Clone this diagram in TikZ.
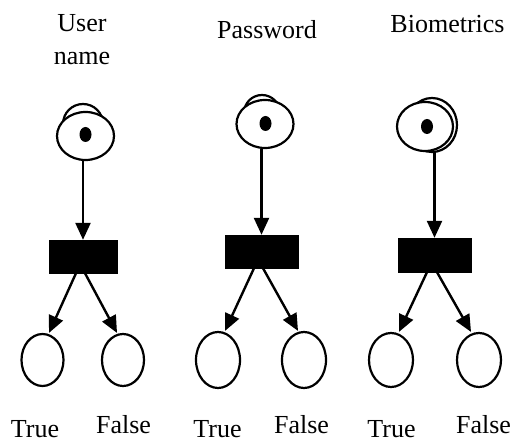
\documentclass[tikz,border=0pt]{standalone}
\usepackage{fontspec}
\setmainfont{Liberation Serif}
\usetikzlibrary{shapes.geometric,arrows.meta}
\begin{document}
\begin{tikzpicture}[x=1pt,y=-1pt,
  place/.style={draw,ellipse,line width=2.2pt,fill=white,inner sep=0pt},
  token/.style={fill=black,ellipse,inner sep=0pt,minimum width=12pt,minimum height=15pt},
  trans/.style={fill=black,draw=black,inner sep=0pt},
  arr/.style={line width=2.4pt,-{Triangle[length=17pt,width=15pt]}},
  lbl/.style={font=\fontsize{26}{33}\selectfont,inner sep=0pt}]
\useasboundingbox (0,0) rectangle (514,443);
% labels
\node[lbl,align=center,anchor=center] (l1) at (82,40) {User\\name};
\node[lbl,anchor=base] (l2) at (267,39) {Password};
\node[lbl,anchor=base] (l3) at (447.5,33) {Biometrics};
% column 1
\node[place,minimum width=40pt,minimum height=40pt] (b1) at (83,124) {};
\node[place,minimum width=57pt,minimum height=48pt] (p1) at (85.5,136) {};
\node[token] (k1) at (85.5,134.5) {};
\node[trans,minimum width=68pt,minimum height=33pt] (t1) at (83,256.5) {};
\node[place,minimum width=42pt,minimum height=52pt] (o1) at (42.5,360) {};
\node[place,minimum width=42pt,minimum height=52pt] (f1) at (123,360) {};
\draw[arr] (t1.north |- p1.south) -- (t1.north);
\draw[arr] ([xshift=-7pt]t1.south) -- ([xshift=6.5pt]o1.north);
\draw[arr] ([xshift=2pt]t1.south) -- ([xshift=-6pt]f1.north);
% column 2
\node[place,minimum width=36pt,minimum height=36pt] (b2) at (262,113) {};
\node[place,minimum width=57pt,minimum height=48pt] (p2) at (265,124) {};
\node[token] (k2) at (265.5,123.5) {};
\node[trans,minimum width=73pt,minimum height=33pt] (t2) at (261.5,251.5) {};
\node[place,minimum width=44pt,minimum height=56pt] (o2) at (218,360) {};
\node[place,minimum width=44pt,minimum height=56pt] (f2) at (304,360) {};
\draw[arr] (t2.north |- p2.south) -- (t2.north);
\draw[arr] ([xshift=-7.5pt]t2.south) -- ([xshift=7pt]o2.north);
\draw[arr] ([xshift=1.5pt]t2.south) -- ([xshift=-6pt]f2.north);
% column 3
\node[place,minimum width=50pt,minimum height=54pt] (b3) at (432,125) {};
\node[place,minimum width=56pt,minimum height=49pt] (p3) at (425,126.5) {};
\node[token] (k3) at (427,126.5) {};
\node[trans,minimum width=73pt,minimum height=34pt] (t3) at (434.5,255) {};
\node[place,minimum width=44pt,minimum height=54pt] (o3) at (391,360) {};
\node[place,minimum width=44pt,minimum height=54pt] (f3) at (479,360) {};
\draw[arr] (t3.north |- p3.south) -- (t3.north);
\draw[arr] ([xshift=-7.5pt]t3.south) -- ([xshift=8pt]o3.north);
\draw[arr] ([xshift=2.5pt]t3.south) -- ([xshift=-8pt]f3.north);
% bottom labels
\node[lbl,anchor=base] (tt1) at (35,437) {True};
\node[lbl,anchor=base] (ff1) at (123.5,433) {False};
\node[lbl,anchor=base] (tt2) at (217.5,437) {True};
\node[lbl,anchor=base] (ff2) at (301.5,433) {False};
\node[lbl,anchor=base] (tt3) at (391.5,437) {True};
\node[lbl,anchor=base] (ff3) at (483.5,433) {False};
\end{tikzpicture}
\end{document}
